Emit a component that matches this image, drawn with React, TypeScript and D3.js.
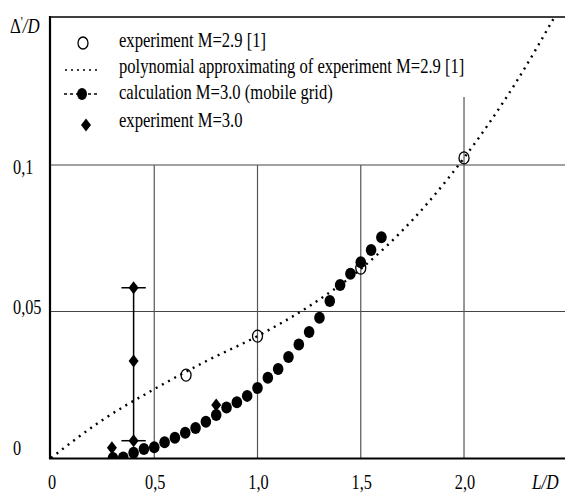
import React from 'react';
import * as d3 from 'd3';

// experiment M=2.9 [1]
const expX = [0.654, 1.0, 1.5, 2.0];
const expY = [0.0283, 0.0416, 0.0648, 0.1024];

// polynomial approximating of experiment M=2.9 [1]
const polyX = [0, 0.25, 0.5, 0.75, 1.0, 1.25, 1.5, 1.75, 2.0, 2.25, 2.45];
const polyY = [0, 0.013, 0.0235, 0.033, 0.0416, 0.0518, 0.0645, 0.0812, 0.1024, 0.128, 0.152];

// calculation M=3.0 (mobile grid)
const calcX = [0.3, 0.35, 0.4, 0.45, 0.5, 0.55, 0.6, 0.65, 0.7, 0.75, 0.8, 0.85, 0.9, 0.95,
  1.0, 1.05, 1.1, 1.15, 1.2, 1.25, 1.3, 1.35, 1.4, 1.45, 1.5, 1.55, 1.6];
const calcY = [0.0, 0.0002, 0.0018, 0.0031, 0.0037, 0.0054, 0.0069, 0.0086, 0.0102, 0.0124, 0.0147,
  0.0172, 0.019, 0.0212, 0.0239, 0.0274, 0.0304, 0.0345, 0.0387, 0.043, 0.0479, 0.0536, 0.059,
  0.0629, 0.0668, 0.071, 0.0753];

// experiment M=3.0
const diaX = [0.295, 0.4, 0.4, 0.4, 0.8];
const diaY = [0.0035, 0.0581, 0.0331, 0.0059, 0.0181];
// error bar at L/D = 0.4
const errX = 0.4;
const errLow = 0.0059;
const errHigh = 0.0581;
const errHalfWidth = 0.059;

const xTicks = [0, 0.5, 1.0, 1.5, 2.0];
const xTickLabels = ['0', '0,5', '1,0', '1,5', '2,0'];
const yTicks = [0, 0.05, 0.1];
const yTickLabels = ['0', '0,05', '0,1'];
const vGrid = [0.5, 1.0, 1.5, 2.0];
const vGridTop = [0.1, 0.1, 0.1, 0.1232];
const hGrid = [0.05, 0.1];

const legendLabels = [
  'experiment M=2.9 [1]',
  'polynomial approximating of experiment M=2.9 [1]',
  'calculation M=3.0 (mobile grid)',
  'experiment M=3.0',
];

const Width = 565;
const Height = 495;
const font = "'Liberation Serif', 'Times New Roman', Times, serif";

const Diamond = ({ cx, cy }: { cx: number; cy: number }) => (
  <path d={`M${cx},${cy - 6.5} L${cx + 5},${cy} L${cx},${cy + 6.5} L${cx - 5},${cy} Z`} fill="#000" />
);

const SText = ({ x, y, size, sx, anchor, children, italic }: any) => (
  <text
    transform={`translate(${x},${y}) scale(${sx},1)`}
    style={{ fontFamily: font, fontSize: size, fontStyle: italic ? 'italic' : 'normal' }}
    textAnchor={anchor || 'start'}
    fill="#000"
  >
    {children}
  </text>
);

export default function App() {
  const x = d3.scaleLinear().domain([0, 2.489]).range([51, 565]);
  const y = d3.scaleLinear().domain([0, 0.1505]).range([458, 17]);

  const polyLine = d3
    .line<number>()
    .x((d, i) => x(polyX[i]))
    .y((d) => y(d))
    .curve(d3.curveMonotoneX)(polyY);

  const yTickDy = [-3, 3, 9];
  const legendBase = [47, 73, 99, 127];
  const legendX = 119;

  return (
    <svg width={Width} height={Height} style={{ position: 'absolute', left: 0, top: 0, background: '#fff' }}>
      <defs>
        <clipPath id="plot">
          <rect x={51} y={17} width={Width - 51} height={458 - 17} />
        </clipPath>
      </defs>

      {/* grid */}
      {hGrid.map((v, i) => (
        <line key={'h' + i} x1={51} x2={Width} y1={y(v)} y2={y(v)} stroke="#444" strokeWidth={1.2} />
      ))}
      {vGrid.map((v, i) => (
        <line key={'v' + i} x1={x(v)} x2={x(v)} y1={y(vGridTop[i])} y2={y(0)} stroke="#555" strokeWidth={1.2} />
      ))}

      {/* frame */}
      <line x1={50} x2={Width} y1={17} y2={17} stroke="#000" strokeWidth={1.6} />
      <line x1={50} x2={50} y1={16} y2={459} stroke="#000" strokeWidth={2.2} />
      <line x1={49} x2={Width} y1={458.5} y2={458.5} stroke="#000" strokeWidth={2.2} />

      {/* polynomial */}
      <path d={polyLine || ''} fill="none" stroke="#000" strokeWidth={2.4} strokeDasharray="2,5" clipPath="url(#plot)" />

      {/* experiment M=2.9 */}
      {expX.map((v, i) => (
        <ellipse key={'e' + i} cx={x(v)} cy={y(expY[i])} rx={5} ry={6} fill="none" stroke="#000" strokeWidth={1.3} />
      ))}

      {/* calculation */}
      <g clipPath="url(#plot)">
        {calcX.map((v, i) => (
          <ellipse key={'c' + i} cx={x(v)} cy={y(calcY[i])} rx={5.3} ry={6} fill="#000" />
        ))}
      </g>

      {/* experiment M=3.0 */}
      <line x1={x(errX)} x2={x(errX)} y1={y(errHigh)} y2={y(errLow)} stroke="#000" strokeWidth={1.5} />
      <line x1={x(errX - errHalfWidth)} x2={x(errX + errHalfWidth)} y1={y(errHigh)} y2={y(errHigh)} stroke="#000" strokeWidth={1.5} />
      <line x1={x(errX - errHalfWidth)} x2={x(errX + errHalfWidth)} y1={y(errLow)} y2={y(errLow)} stroke="#000" strokeWidth={1.5} />
      {diaX.map((v, i) => (
        <Diamond key={'d' + i} cx={x(v)} cy={y(diaY[i])} />
      ))}

      {/* tick labels */}
      {xTicks.map((v, i) => (
        <SText key={'xt' + i} x={x(v) + 1} y={489} size={22} sx={0.74} anchor="middle">
          {xTickLabels[i]}
        </SText>
      ))}
      {yTicks.map((v, i) => (
        <SText key={'yt' + i} x={13} y={y(v) + yTickDy[i]} size={22} sx={0.74}>
          {yTickLabels[i]}
        </SText>
      ))}

      {/* axis titles */}
      <text transform="translate(10,33) scale(0.8,1)" style={{ fontFamily: font, fontSize: 21 }} fill="#000">
        Δ<tspan dy={-6} style={{ fontSize: 14 }}>'</tspan>
        <tspan dy={6} style={{ fontStyle: 'italic' }}>/D</tspan>
      </text>
      <SText x={532} y={489} size={22} sx={0.78} italic>
        L/D
      </SText>

      {/* legend */}
      <ellipse cx={83} cy={legendBase[0] - 4} rx={5} ry={6} fill="none" stroke="#000" strokeWidth={1.3} />
      <line x1={65} x2={99} y1={legendBase[1] - 3} y2={legendBase[1] - 3} stroke="#000" strokeWidth={1.5} strokeDasharray="2,4" />
      <line x1={64} x2={100} y1={legendBase[2] - 5} y2={legendBase[2] - 5} stroke="#000" strokeWidth={1.5} strokeDasharray="3,3" />
      <ellipse cx={82} cy={legendBase[2] - 5} rx={5} ry={5.9} fill="#000" />
      <Diamond cx={86} cy={legendBase[3] - 2} />
      {legendLabels.map((t, i) => (
        <SText key={'l' + i} x={legendX} y={legendBase[i]} size={21} sx={0.79}>
          {t}
        </SText>
      ))}
    </svg>
  );
}
